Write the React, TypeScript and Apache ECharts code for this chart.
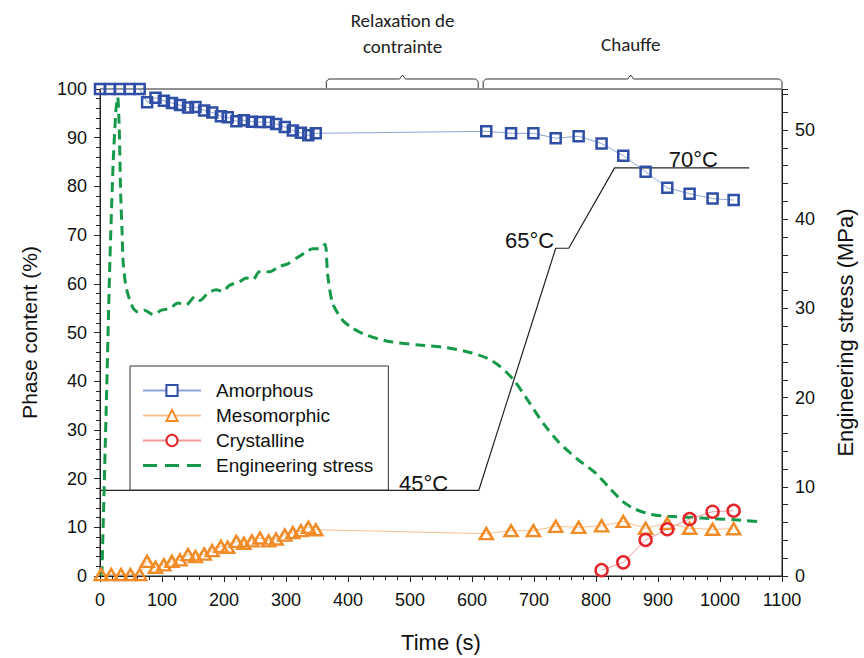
import React, { useEffect, useRef } from "react";
import * as echarts from "echarts";

// ---- Data ----
const amorphousTime = [0, 16, 32, 48, 64, 76, 89.5, 103, 116, 129, 142, 154, 168, 181, 195, 206, 220, 232, 245, 258, 272, 284, 298, 311, 324, 336, 348, 623, 663, 699, 735, 772, 809, 844, 880, 915, 951, 988, 1022];
const amorphousValues = [100, 100, 100, 100, 100, 97.3, 98.2, 97.6, 97.1, 96.7, 96.2, 96.3, 95.6, 95.2, 94.4, 94.2, 93.4, 93.6, 93.3, 93.2, 93.2, 92.8, 92.2, 91.5, 91.0, 90.5, 90.9, 91.3, 90.9, 90.9, 89.9, 90.3, 88.8, 86.3, 83.0, 79.7, 78.5, 77.5, 77.2];

const mesomorphicTime = [2, 18, 34, 49, 64, 76, 89.5, 103, 116, 129, 142, 154, 168, 181, 195, 206, 220, 232, 245, 258, 272, 284, 298, 311, 324, 336, 348, 623, 663, 699, 735, 772, 809, 844, 880, 915, 951, 988, 1022];
const mesomorphicValues = [0.3, 0.3, 0.3, 0.3, 0.3, 3.0, 1.8, 2.3, 3.0, 3.3, 4.4, 4.0, 4.5, 5.2, 6.1, 5.9, 7.1, 6.7, 7.2, 7.8, 7.2, 7.6, 8.4, 8.9, 9.3, 10.0, 9.5, 8.7, 9.3, 9.3, 10.2, 10.0, 10.3, 11.2, 9.8, 10.8, 9.8, 9.6, 9.7];

const crystallineTime = [809, 844, 880, 915, 951, 988, 1022];
const crystallineValues = [1.2, 2.8, 7.4, 9.6, 11.7, 13.2, 13.4];

const stressTime = [3, 10.8, 16, 21.4, 25.7, 28.5, 31, 33.3, 35.5, 37.5, 43, 53.6, 61.6, 72, 85.7, 99, 112.5, 126, 139, 153, 161, 174, 187.5, 198, 209, 225, 236, 246.5, 257, 273, 289, 303, 316, 332, 343, 354, 363, 367, 375, 391, 407, 430, 466, 514, 560, 600, 625, 645, 667, 691, 715, 740, 772, 800, 820, 844, 863, 889, 916, 970, 1024, 1064];
const stressValues = [0, 20.9, 35.4, 46.6, 52.2, 53.7, 50.3, 42.9, 38.8, 35.0, 32.1, 30.0, 29.6, 29.8, 29.3, 29.8, 30.0, 30.6, 30.4, 31.3, 30.9, 31.7, 32.1, 31.9, 32.6, 33.0, 33.4, 33.2, 34.1, 34.1, 34.7, 35.0, 35.6, 36.3, 36.7, 36.7, 37.2, 33.9, 30.6, 28.7, 27.8, 27.0, 26.3, 25.9, 25.6, 25.0, 24.4, 23.5, 22.0, 19.6, 17.1, 15.0, 13.0, 11.5, 10.0, 8.3, 7.5, 6.9, 6.7, 6.5, 6.3, 6.1];

// Temperature program (schematic, drawn on the phase-content scale)
const temperatureTime = [0, 611, 735, 756, 830, 1047];
const temperatureLevel = [17.6, 17.6, 67.3, 67.3, 83.8, 83.8];
const temperatureLabels = ["45°C", "65°C", "70°C"];
const temperatureLabelTime = [522, 693, 957];
const temperatureLabelLevel = [19.0, 68.9, 85.5];

// Phase annotations (time ranges)
const phaseNames = ["Relaxation de\ncontrainte", "Chauffe"];
const phaseStart = [365, 618];
const phaseMid = [488, 856];
const phaseEnd = [610, 1100];

const xTicks = { min: 0, max: 1100, interval: 100 };
const yTicks = { min: 0, max: 100, interval: 10 };
const y2Ticks = { min: 0, max: 54.6, interval: 2, labelEvery: 10 };

const FONT = "'Liberation Sans', Arial, Helvetica, sans-serif";
const NOTE_FONT = "Carlito, 'Liberation Sans Narrow', 'Open Sans', sans-serif";
const BLUE = "#2f4fa6";
const BLUE_LINE = "#8ea3d6";
const ORANGE = "#f28c28";
const ORANGE_LINE = "#f7c08f";
const RED = "#e3262b";
const RED_LINE = "#ee9c96";
const GREEN = "#17994a";
const AXIS = "#222";

const zip = (a: number[], b: number[]) => a.map((t, i) => [t, b[i]]);

export default function App() {
  const ref = useRef<HTMLDivElement>(null);
  useEffect(() => {
    const chart = echarts.init(ref.current!, undefined, { renderer: "svg" });
    const axisCommon = {
      axisLine: { show: true, onZero: false, lineStyle: { color: AXIS, width: 1 } },
      axisTick: { show: true, inside: false, length: 6, lineStyle: { color: AXIS, width: 1 } },
      splitLine: { show: false },
      minorSplitLine: { show: false },
    };
    const option: any = {
      animation: false,
      backgroundColor: "#fff",
      textStyle: { fontFamily: FONT },
      grid: { left: 100, right: 80, top: 89, bottom: 80, show: true, borderColor: AXIS, borderWidth: 1, containLabel: false },
      legend: {
        show: true,
        orient: "vertical",
        left: 130,
        top: 366,
        selectedMode: false,
        itemWidth: 58,
        itemHeight: 14,
        itemGap: 6,
        padding: [15, 15, 15, 12],
        borderColor: "#333",
        borderWidth: 1,
        backgroundColor: "#fff",
        textStyle: { fontSize: 19, color: "#111", fontFamily: FONT, padding: [0, 0, 0, 10], lineHeight: 18 },
        data: [
          { name: "Amorphous", itemStyle: { color: "#fff" } },
          { name: "Mesomorphic", itemStyle: { color: "#fff" } },
          { name: "Crystalline", itemStyle: { color: "#fff" } },
          {
            name: "Engineering stress",
            icon: "path://M0,0h14v3h-14z M22,0h14v3h-14z M44,0h14v3h-14z",
            itemStyle: { color: GREEN, borderWidth: 0 },
          },
        ],
      },
      xAxis: {
        type: "value",
        min: xTicks.min,
        max: xTicks.max,
        interval: xTicks.interval,
        ...axisCommon,
        minorTick: { show: true, splitNumber: 5, length: 4, lineStyle: { color: AXIS, width: 1 } },
        axisLabel: { fontSize: 18, color: "#111", margin: 15, fontFamily: FONT, formatter: (v: number) => String(v) },
        name: "Time (s)",
        nameLocation: "middle",
        nameGap: 55,
        nameTextStyle: { fontSize: 22, color: "#111", fontFamily: FONT },
      },
      yAxis: [
        {
          type: "value",
          position: "left",
          min: yTicks.min,
          max: yTicks.max,
          interval: yTicks.interval,
          ...axisCommon,
          minorTick: { show: true, splitNumber: 5, length: 4, lineStyle: { color: AXIS, width: 1 } },
          axisLabel: { fontSize: 18, color: "#111", margin: 13, fontFamily: FONT, formatter: (v: number) => String(v) },
          name: "Phase content (%)",
          nameLocation: "middle",
          nameRotate: 90,
          nameGap: 60,
          nameTextStyle: { fontSize: 21, color: "#111", fontFamily: FONT },
        },
        {
          type: "value",
          position: "right",
          min: y2Ticks.min,
          max: y2Ticks.max,
          interval: y2Ticks.interval,
          ...axisCommon,
          axisTick: { show: true, inside: false, length: 6, lineStyle: { color: AXIS, width: 1 } },
          axisLabel: {
            fontSize: 18,
            color: "#111",
            margin: 13,
            fontFamily: FONT,
            formatter: (v: number) => (Math.abs(v % y2Ticks.labelEvery) < 1e-6 ? String(v) : ""),
          },
          name: "Engineering stress (MPa)",
          nameLocation: "middle",
          nameRotate: 90,
          nameGap: 52,
          nameTextStyle: { fontSize: 22, color: "#111", fontFamily: FONT },
        },
      ],
      series: [
        {
          name: "temperature",
          type: "line",
          yAxisIndex: 0,
          data: zip(temperatureTime, temperatureLevel),
          symbol: "none",
          lineStyle: { color: "#222", width: 1.2 },
          itemStyle: { color: "#222" },
          z: 1,
          silent: true,
        },
        {
          name: "Engineering stress",
          type: "line",
          yAxisIndex: 1,
          data: zip(stressTime, stressValues),
          symbol: "none",
          smooth: 0.25,
          lineStyle: { color: GREEN, width: 3, type: [10, 6] },
          itemStyle: { color: GREEN, borderWidth: 0 },
          z: 3,
        },
        {
          name: "Amorphous",
          type: "line",
          yAxisIndex: 0,
          data: zip(amorphousTime, amorphousValues),
          symbol: "rect",
          symbolSize: 10,
          lineStyle: { color: BLUE_LINE, width: 1 },
          itemStyle: { color: "transparent", borderColor: BLUE, borderWidth: 2.5 },
          z: 5,
        },
        {
          name: "Mesomorphic",
          type: "line",
          yAxisIndex: 0,
          data: zip(mesomorphicTime, mesomorphicValues),
          symbol: "triangle",
          symbolSize: [13, 11],
          lineStyle: { color: ORANGE_LINE, width: 1 },
          itemStyle: { color: "transparent", borderColor: ORANGE, borderWidth: 2.5 },
          z: 5,
        },
        {
          name: "Crystalline",
          type: "line",
          yAxisIndex: 0,
          data: zip(crystallineTime, crystallineValues),
          symbol: "circle",
          symbolSize: 12,
          lineStyle: { color: RED_LINE, width: 1 },
          itemStyle: { color: "transparent", borderColor: RED, borderWidth: 2.5 },
          z: 5,
        },
      ],
    };
    chart.setOption(option);

    const px = (t: number) => chart.convertToPixel({ xAxisIndex: 0 }, t) as number;
    const py = (v: number) => chart.convertToPixel({ yAxisIndex: 0 }, v) as number;
    const top = py(yTicks.max);
    const graphics: any[] = [];
    phaseNames.forEach((name, i) => {
      const x0 = px(phaseStart[i]);
      const xc = px(phaseMid[i]);
      const x1 = px(phaseEnd[i]);
      const yh = top - 10;
      graphics.push({
        type: "polyline",
        silent: true,
        shape: {
          points: [
            [x0, top - 1],
            [x0, yh + 2.5],
            [x0 + 2.5, yh],
            [xc - 3, yh],
            [xc, yh - 4],
            [xc + 3, yh],
            [x1 - 2.5, yh],
            [x1, yh + 2.5],
            [x1, top - 1],
          ],
        },
        style: { stroke: "#333", lineWidth: 1, fill: null },
      });
      const lines = name.split("\n").length;
      graphics.push({
        type: "text",
        silent: true,
        x: xc,
        y: lines > 1 ? 33 : 44,
        style: {
          text: name,
          fill: "#222",
          font: `19px ${NOTE_FONT}`,
          textAlign: "center",
          textVerticalAlign: "middle",
          lineHeight: 26,
        },
      });
    });
    temperatureLabels.forEach((label, i) => {
      graphics.push({
        type: "text",
        silent: true,
        x: px(temperatureLabelTime[i]),
        y: py(temperatureLabelLevel[i]),
        style: {
          text: label,
          fill: "#111",
          font: `22px ${FONT}`,
          textAlign: "center",
          textVerticalAlign: "middle",
        },
        z: 2,
      });
    });
    chart.setOption({ graphic: graphics });

    return () => chart.dispose();
  }, []);
  return (
    <div
      ref={ref}
      style={{ position: "fixed", left: 0, top: 0, width: 864, height: 658, background: "#fff" }}
    />
  );
}
